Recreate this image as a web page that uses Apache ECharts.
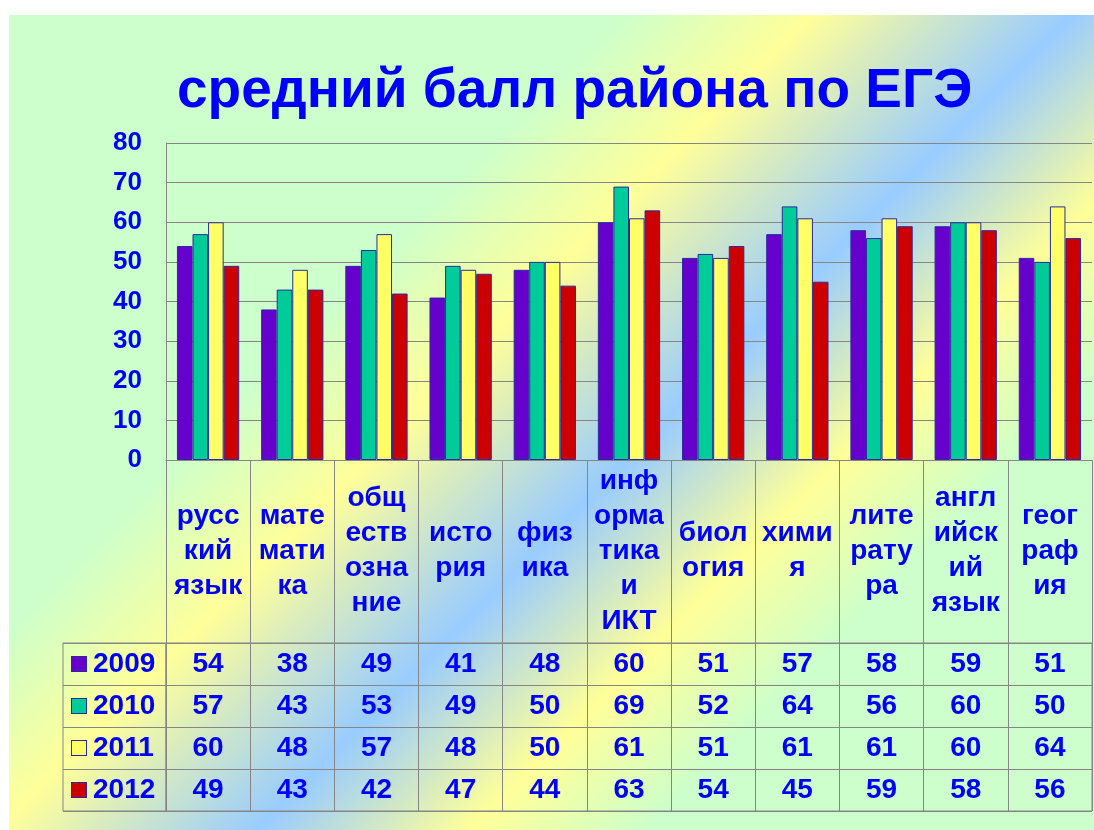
<!DOCTYPE html>
<html>
<head>
<meta charset="utf-8">
<script src="https://cdn.jsdelivr.net/npm/echarts@6/dist/echarts.min.js"></script>
<style>
  html, body { margin: 0; padding: 0; background: #fff; }
  #chart { width: 1094px; height: 830px; }
</style>
</head>
<body>
<div id="chart"></div>
<script>
// подписи предметов (переносы как на слайде)
var subjects = ['русс\nкий\nязык', 'мате\nмати\nка', 'общ\nеств\nозна\nние', 'исто\nрия', 'физ\nика',
    'инф\nорма\nтика\nи\nИКТ', 'биол\nогия', 'хими\nя', 'лите\nрату\nра', 'англ\nийск\nий\nязык', 'геог\nраф\nия'];
var years = ['2009', '2010', '2011', '2012'];
var v2009 = [54, 38, 49, 41, 48, 60, 51, 57, 58, 59, 51];
var v2010 = [57, 43, 53, 49, 50, 69, 52, 64, 56, 60, 50];
var v2011 = [60, 48, 57, 48, 50, 61, 51, 61, 61, 60, 64];
var v2012 = [49, 43, 42, 47, 44, 63, 54, 45, 59, 58, 56];
var yTicks = [0, 10, 20, 30, 40, 50, 60, 70, 80];

var values = [v2009, v2010, v2011, v2012];
var colors = ['#6600cc', '#00cc99', '#ffff66', '#cc0000'];
var font = "'Liberation Sans', Arial, sans-serif";
var blue = '#0000ff';
var lineColor = '#868686';

var chart = echarts.init(document.getElementById('chart'));

// квадратики легенды в подписях года
var rich = { y: { fontSize: 28, fontWeight: 'bold', color: blue, fontFamily: font, padding: [0, 0, 0, 7] } };
years.forEach(function (y, i) {
    rich['s' + i] = { width: 14, height: 14, backgroundColor: colors[i], borderColor: '#2a2aa0', borderWidth: 1 };
});

var series = [];
// столбики
years.forEach(function (y, i) {
    series.push({
        name: y,
        type: 'bar',
        xAxisIndex: 0,
        yAxisIndex: 0,
        barGap: 0,
        barCategoryGap: '26%',
        itemStyle: { color: colors[i], borderColor: '#2a2aa0', borderWidth: 1 },
        data: values[i]
    });
});
// таблица значений
years.forEach(function (y, i) {
    series.push({
        name: y + ' table',
        type: 'scatter',
        xAxisIndex: 1,
        yAxisIndex: 1,
        symbolSize: 1,
        itemStyle: { color: 'rgba(0,0,0,0)', opacity: 1 },
        label: {
            show: true,
            position: 'inside',
            fontSize: 28,
            fontWeight: 'bold',
            color: blue,
            fontFamily: font,
            formatter: function (p) { return p.value[2]; }
        },
        data: values[i].map(function (v, k) { return [k, i, v]; })
    });
});
// колонка легенды
series.push({ type: 'scatter', xAxisIndex: 2, yAxisIndex: 2, data: [] });

chart.setOption({
    animation: false,
    graphic: [{
        type: 'rect',
        z: -10,
        silent: true,
        shape: { x: 9, y: 15, width: 1085, height: 815 },
        style: {
            fill: new echarts.graphic.LinearGradient(0, 0, 962, 962, [
                { offset: 0, color: '#ccffcc' },
                { offset: 0.33, color: '#ccffcc' },
                { offset: 0.43, color: '#ffff99' },
                { offset: 0.565, color: '#99ccff' },
                { offset: 0.675, color: '#ffff99' },
                { offset: 0.77, color: '#ccffcc' },
                { offset: 1, color: '#ccffcc' }
            ], true)
        }
    }],
    title: {
        text: 'средний балл района по ЕГЭ',
        left: 172,
        top: 59,
        textStyle: { fontSize: 55, fontWeight: 'bold', color: blue, fontFamily: font }
    },
    grid: [
        { left: 166, top: 143, width: 926, height: 317 },
        { left: 166, top: 643, width: 926, height: 168, show: true, borderColor: lineColor, borderWidth: 1 },
        { left: 63, top: 643, width: 103, height: 168, show: true, borderColor: lineColor, borderWidth: 1 }
    ],
    xAxis: [
        {
            type: 'category',
            gridIndex: 0,
            data: subjects,
            axisLine: { lineStyle: { color: lineColor } },
            axisTick: { show: true, interval: 0, length: 183, lineStyle: { color: lineColor } },
            axisLabel: {
                interval: 0,
                margin: 91,
                verticalAlign: 'middle',
                lineHeight: 35,
                fontSize: 28,
                fontWeight: 'bold',
                color: blue,
                fontFamily: font
            }
        },
        {
            type: 'category',
            gridIndex: 1,
            data: subjects,
            axisLine: { show: false },
            axisTick: { show: false },
            axisLabel: { show: false },
            splitLine: { show: true, interval: 0, lineStyle: { color: lineColor } }
        },
        { type: 'value', gridIndex: 2, show: false, min: 0, max: 1 }
    ],
    yAxis: [
        {
            type: 'value',
            gridIndex: 0,
            min: yTicks[0],
            max: yTicks[yTicks.length - 1],
            interval: 10,
            axisLine: { show: true, lineStyle: { color: lineColor } },
            axisTick: { show: false },
            splitLine: { lineStyle: { color: lineColor } },
            axisLabel: { margin: 24, fontSize: 26, fontWeight: 'bold', color: blue, fontFamily: font }
        },
        {
            type: 'category',
            gridIndex: 1,
            inverse: true,
            data: years,
            axisLine: { show: false },
            axisTick: { show: false },
            axisLabel: { show: false },
            splitLine: { show: true, interval: 0, lineStyle: { color: lineColor } }
        },
        {
            type: 'category',
            gridIndex: 2,
            inverse: true,
            data: years,
            axisLine: { show: false },
            axisTick: { show: false },
            splitLine: { show: true, interval: 0, lineStyle: { color: lineColor } },
            axisLabel: {
                inside: true,
                margin: 9,
                formatter: function (val, idx) { return '{s' + idx + '|}{y|' + val + '}'; },
                rich: rich
            }
        }
    ],
    series: series
});
</script>
</body>
</html>
